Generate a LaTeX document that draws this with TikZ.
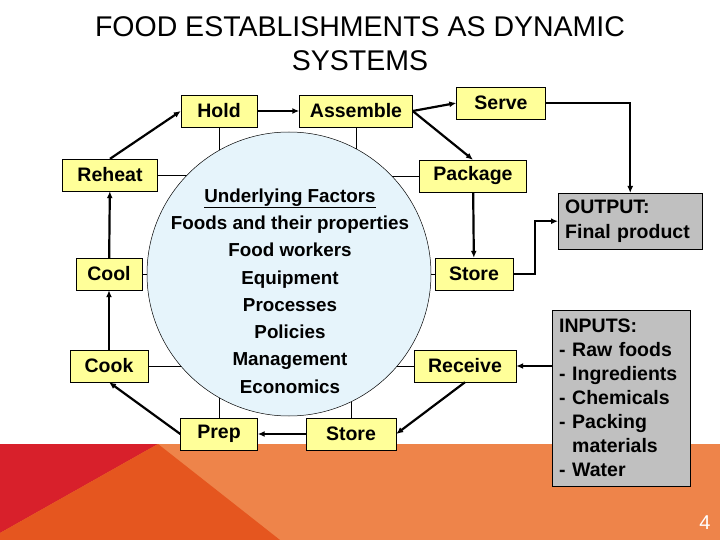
\documentclass[tikz,border=0pt]{standalone}
\usepackage{fontspec}
\setmainfont{Liberation Sans}
\usepackage{xcolor}
\usepackage{tikz}
\usetikzlibrary{positioning,%
  arrows.meta,%
  calc}

\definecolor{boxyellow}{HTML}{FFFF99}
\definecolor{boxgray}{HTML}{C0C0C0}
\definecolor{coreblue}{HTML}{E6F4FB}
\definecolor{bandorange}{HTML}{EE844A}
\definecolor{bandred}{HTML}{D8202B}
\definecolor{banddark}{HTML}{E5561F}

\begin{document}
\begin{tikzpicture}
                    [
                        x=1pt,y=-1pt,
                        every node/.style={font=\fontsize{19.5}{22}\selectfont\bfseries},
                        stagebox/.style={draw,fill=boxyellow,minimum height=32pt,inner sep=0pt},
                        greybox/.style={draw,fill=boxgray,anchor=north west,align=left,inner xsep=7pt},
                        flow/.style={line width=2.2pt,-{Latex[length=7pt,width=6pt]}},
                        tie/.style={line width=0.6pt}
                    ]

                    % Hintergrund
                    \useasboundingbox (0,0) rectangle (720,540);
                    \fill[white] (0,0) rectangle (720,540);
                    \fill[bandorange] (0,444) rectangle (720,540);
                    \fill[bandred] (0,444) -- (158,444) -- (0,533) -- cycle;
                    \fill[banddark] (158,444) -- (280,540) -- (0,540) -- (0,533) -- cycle;

                    \node[font=\fontsize{28.5}{34}\selectfont, align=center] (title) at (360,44)
                        {FOOD ESTABLISHMENTS AS DYNAMIC\\SYSTEMS};

                    % Stationen
                    \node[stagebox, minimum width=76pt] (hold) at (219,111) {Hold};
                    \node[stagebox, minimum width=113pt] (assemble) at (356,111) {Assemble};
                    \node[stagebox, minimum width=89pt] (serve) at (501,103) {Serve};
                    \node[stagebox, minimum width=95pt] (reheat) at (110,175) {Reheat};
                    \node[stagebox, minimum width=107pt] (package) at (473,176) {Package};
                    \node[stagebox, minimum width=66pt] (cool) at (109,274) {Cool};
                    \node[stagebox, minimum width=78pt] (storeout) at (474,274) {Store};
                    \node[stagebox, minimum width=78pt] (cook) at (109,366) {Cook};
                    \node[stagebox, minimum width=102pt] (receive) at (465,366) {Receive};
                    \node[stagebox, minimum width=77pt] (prep) at (219,434) {Prep};
                    \node[stagebox, minimum width=90pt] (storein) at (351,434) {Store};

                    \node[greybox, minimum width=144pt, minimum height=56pt, text width=130pt,
                          font=\fontsize{19.5}{25}\selectfont\bfseries] (output) at (558,193)
                        {OUTPUT:\\Final product};
                    \node[greybox, minimum width=138pt, minimum height=176pt, text width=124pt,
                          font=\fontsize{19.5}{24}\selectfont\bfseries] (inputs) at (552,310)
                        {INPUTS:\\- Raw foods\\- Ingredients\\- Chemicals\\- Packing\\\phantom{- }materials\\- Water};

                    % Verbindungen zum Kreis
                    \coordinate (hub) at (289,274);
                    \draw[tie] (hold.south) -- (hold.south |- hub);
                    \draw[tie] (assemble.south) -- (assemble.south |- hub);
                    \draw[tie] (reheat.east) -- (reheat.east -| hub);
                    \draw[tie] (package.west) -- (package.west -| hub);
                    \draw[tie] (cool.east) -- (cool.east -| hub);
                    \draw[tie] (storeout.west) -- (storeout.west -| hub);
                    \draw[tie] (cook.east) -- (cook.east -| hub);
                    \draw[tie] (receive.west) -- (receive.west -| hub);
                    \draw[tie] (prep.north) -- (prep.north |- hub);
                    \draw[tie] (storein.north) -- (storein.north |- hub);

                    \node[circle, draw, fill=coreblue, line width=0.5pt, minimum size=284pt] (core) at (hub) {};
                    \node[align=center, font=\fontsize{18.8}{27.3}\selectfont\bfseries] (factors) at (290,291)
                        {\underline{Underlying Factors}\\Foods and their properties\\Food workers\\Equipment\\Processes\\Policies\\Management\\Economics};

                    % Ablauf
                    \draw[flow] (reheat.north) -- (hold.west);
                    \draw[flow] (hold) -- (assemble);
                    \draw[flow] (assemble.east) -- (serve.west);
                    \draw[flow] (assemble.east) -- (package.north);
                    \draw[flow] (serve.east) -| (output.north);
                    \draw[flow] (package) -- (storeout);
                    \draw[flow] (storeout.east) -- ++(22,0) |- (output.west);
                    \draw[flow] (inputs.west |- receive) -- (receive.east);
                    \draw[flow] (receive.south) -- (storein.east);
                    \draw[flow] (storein) -- (prep);
                    \draw[flow] (prep.west) -- (cook.south);
                    \draw[flow] (cook) -- (cool);
                    \draw[flow] (cool) -- (reheat);

                    \node[text=white, font=\fontsize{20}{20}\selectfont] (pagenum) at (705,523) {4};
                \end{tikzpicture}
\end{document}
